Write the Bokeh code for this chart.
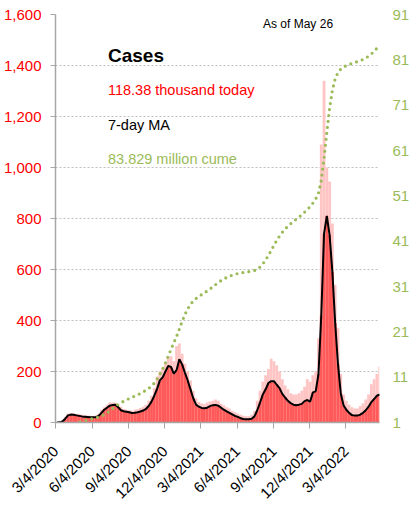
import math
import pandas as pd
from bokeh.plotting import figure
from bokeh.models import Range1d, LinearAxis, FixedTicker, NumeralTickFormatter, Label, ColumnDataSource
from bokeh.embed import file_html
from bokeh.resources import INLINE

# ---------------- data (weekly) ----------------
start_date = "2020-03-04"

# 7-day moving average of daily cases, thousands (one value per week)
ma_thousands = [
    0.1, 0.5, 4, 15, 28, 31, 30, 28, 26, 24,
    23, 22, 21, 21, 21, 26, 38, 50, 58, 66,
    69, 70, 60, 48, 44, 42, 40, 37, 38, 40,
    43, 47, 53, 65, 82, 105, 132, 165, 177, 200,
    222, 218, 192, 205, 248, 228, 195, 165, 130, 95,
    70, 62, 57, 56, 58, 64, 68, 69, 66, 58,
    50, 44, 38, 32, 26, 22, 17, 14, 13, 13,
    15, 24, 48, 78, 110, 130, 155, 162, 162, 148,
    135, 112, 98, 85, 76, 70, 68, 70, 73, 84,
    88, 82, 118, 122, 190, 420, 740, 810, 735, 590,
    390, 230, 115, 68, 50, 38, 29, 27, 27, 31,
    38, 48, 62, 80, 92, 105, 110,
]

# highest single-day count in each week, thousands
peak_thousands = [
    0.2, 1.2, 9, 22, 35, 36, 35, 34, 33, 30,
    28, 27, 26, 25, 27, 34, 50, 60, 70, 78,
    78, 78, 70, 62, 53, 50, 48, 46, 50, 52,
    57, 62, 70, 85, 105, 135, 180, 200, 215, 230,
    255, 260, 240, 300, 310, 270, 230, 200, 165, 125,
    95, 80, 75, 72, 78, 82, 85, 90, 85, 75,
    68, 60, 55, 45, 40, 35, 30, 26, 25, 25,
    30, 45, 85, 125, 160, 185, 210, 250, 240, 225,
    200, 170, 145, 130, 115, 110, 110, 115, 125, 140,
    170, 160, 185, 200, 330, 1090, 1340, 1000, 945, 780,
    540, 370, 190, 110, 85, 70, 60, 55, 55, 65,
    75, 90, 110, 150, 170, 190, 220,
]

# cumulative cases, millions
cume_millions = [
    0.0, 0.001, 0.01, 0.08, 0.25, 0.46, 0.68, 0.88, 1.07, 1.25,
    1.42, 1.58, 1.74, 1.89, 2.04, 2.20, 2.42, 2.73, 3.11, 3.55,
    4.02, 4.51, 4.97, 5.37, 5.70, 6.00, 6.29, 6.56, 6.83, 7.11,
    7.41, 7.73, 8.10, 8.52, 9.05, 9.70, 10.55, 11.60, 12.80, 14.10,
    15.60, 17.15, 18.55, 19.95, 21.60, 23.30, 24.80, 26.05, 27.05, 27.80,
    28.35, 28.80, 29.20, 29.60, 30.00, 30.45, 30.92, 31.40, 31.87, 32.30,
    32.67, 32.99, 33.26, 33.50, 33.70, 33.86, 33.99, 34.09, 34.18, 34.27,
    34.37, 34.52, 34.80, 35.30, 36.00, 36.85, 37.85, 38.95, 40.10, 41.15,
    42.12, 42.95, 43.67, 44.30, 44.85, 45.35, 45.83, 46.31, 46.83, 47.40,
    48.00, 48.60, 49.40, 50.30, 51.60, 54.40, 59.30, 65.00, 70.30, 74.30,
    76.80, 78.20, 78.95, 79.40, 79.72, 79.98, 80.20, 80.40, 80.60, 80.82,
    81.08, 81.40, 81.80, 82.30, 82.88, 83.55, 83.83,
]

x_tick_labels = ["3/4/2020", "6/4/2020", "9/4/2020", "12/4/2020", "3/4/2021",
                 "6/4/2021", "9/4/2021", "12/4/2021", "3/4/2022"]
left_ticks = [0, 200, 400, 600, 800, 1000, 1200, 1400, 1600]
right_ticks = [1, 11, 21, 31, 41, 51, 61, 71, 81, 91]

title_text = "Cases"
today_text = "118.38 thousand today"
ma_text = "7-day MA"
cume_text = "83.829 million cume"
asof_text = "As of May 26"

# ---------------- build ----------------
t0 = pd.Timestamp(start_date)
weeks = pd.date_range(start_date, periods=len(ma_thousands), freq="7D")
xc = [(w - t0).days + 3.5 for w in weeks]
src = ColumnDataSource(dict(x=xc, ma=ma_thousands, peak=peak_thousands, cume=cume_millions))

x_ticks = [(pd.to_datetime(l, format="%m/%d/%Y") - t0).days for l in x_tick_labels]

FONT = "Liberation Sans"
GREEN = "#9bbb59"
GRAY = "#a6a6a6"
TICK_FS = "15px"
TEXT_FS = "14.5px"

p = figure(frame_width=324, frame_height=408, output_backend="svg", toolbar_location=None,
           x_range=Range1d(0, 815), y_range=Range1d(0, 1600),
           min_border_left=55, min_border_right=0, min_border_top=14, min_border_bottom=0)
p.outline_line_color = None
p.extra_y_ranges = {"cume": Range1d(1, 91)}

p.vbar(x="x", top="peak", width=7, source=src, color="#ffc4c4", line_color=None)
p.vbar(x="x", top="ma", width=7, source=src, color="#ff5a5a", line_color=None)
p.line(x="x", y="ma", source=src, line_color="black", line_width=2)
p.line(x="x", y="cume", source=src, y_range_name="cume", line_color=GREEN,
       line_width=3.2, line_dash="0 6", line_cap="round")

# left axis
ya = p.yaxis[0]
ya.ticker = FixedTicker(ticks=left_ticks)
ya.formatter = NumeralTickFormatter(format="0,0")
ya.major_label_text_color = "#ff0000"
ya.major_label_text_font = FONT
ya.major_label_text_font_size = TICK_FS
ya.axis_line_color = GRAY
ya.axis_line_width = 1.5
ya.major_tick_line_color = GRAY
ya.major_tick_out = 5
ya.major_tick_in = 0
ya.minor_tick_line_color = None
ya.major_label_standoff = 9

# right axis
ra = LinearAxis(y_range_name="cume", ticker=FixedTicker(ticks=right_ticks))
ra.axis_line_color = None
ra.major_tick_line_color = None
ra.minor_tick_line_color = None
ra.major_tick_out = 0
ra.major_tick_in = 0
ra.major_label_standoff = 13
ra.major_label_text_color = GREEN
ra.major_label_text_font = FONT
ra.major_label_text_font_size = TICK_FS
p.add_layout(ra, "right")

# bottom axis
xa = p.xaxis[0]
xa.ticker = FixedTicker(ticks=x_ticks)
xa.major_label_overrides = {t: l for t, l in zip(x_ticks, x_tick_labels)}
xa.major_label_orientation = math.pi / 4
xa.major_label_text_font = FONT
xa.major_label_text_font_size = TICK_FS
xa.major_label_text_color = "black"
xa.axis_line_color = GRAY
xa.axis_line_width = 1.5
xa.major_tick_line_color = GRAY
xa.major_tick_out = 6
xa.major_tick_in = 0
xa.minor_tick_line_color = None
xa.major_label_standoff = 20

p.xgrid.visible = False
p.ygrid.ticker = FixedTicker(ticks=left_ticks)
p.ygrid.grid_line_color = "#bfbfbf"
p.ygrid.grid_line_dash = "2 2"
p.ygrid.grid_line_width = 1

# texts
p.add_layout(Label(x=132, y=1397, text=title_text, text_font=FONT, text_font_size="19px",
                   text_font_style="bold", text_color="black"))
p.add_layout(Label(x=132, y=1272, text=today_text, text_font=FONT, text_font_size=TEXT_FS,
                   text_color="#ff0000"))
p.add_layout(Label(x=132, y=1135, text=ma_text, text_font=FONT, text_font_size=TEXT_FS,
                   text_color="black"))
p.add_layout(Label(x=132, y=1001, text=cume_text, text_font=FONT, text_font_size=TEXT_FS,
                   text_color=GREEN))
p.add_layout(Label(x=522, y=1537, text=asof_text, text_font=FONT, text_font_size="12px",
                   text_color="black"))

open("out.html", "w").write(file_html(p, INLINE))
